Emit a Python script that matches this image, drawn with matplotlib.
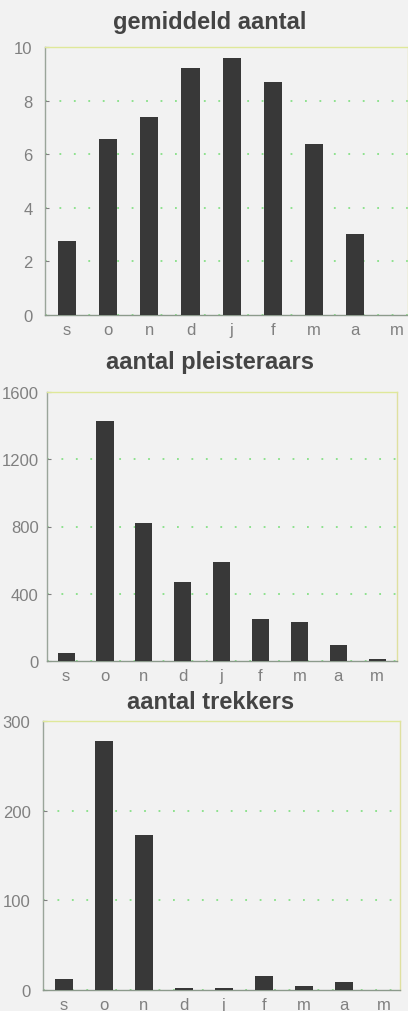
import matplotlib
matplotlib.use("Agg")
import matplotlib.pyplot as plt
import numpy as np

plt.rcParams['font.family'] = ['Liberation Sans', 'DejaVu Sans']

maanden = ['s', 'o', 'n', 'd', 'j', 'f', 'm', 'a', 'm']

gemiddeld = [2.77, 6.57, 7.37, 9.21, 9.6, 8.7, 6.38, 3.01, 0.0]
pleisteraars = [50, 1425, 821, 467, 586, 248, 233, 95, 14]
trekkers = [12.7, 278, 173, 2, 2.5, 15.6, 5, 9, 0]

titels = ['gemiddeld aantal', 'aantal pleisteraars', 'aantal trekkers']
yticks = [[0, 2, 4, 6, 8, 10], [0, 400, 800, 1200, 1600], [0, 100, 200, 300]]

bg = '#f2f2f2'
balk = '#383838'
grijs = '#808080'

fig = plt.figure(figsize=(4.08, 10.12), dpi=100, facecolor=bg)

W, H = 408.0, 1012.0
# assen in pixels: links, boven, rechts, onder
boxes = [(45, 48, 408, 316), (47, 393, 397, 662), (43, 722, 400, 991)]
xlims = [(-0.53, 8.28), (-0.49, 8.51), (-0.52, 8.41)]
titel_y = [22, 363, 703]
breedtes = [0.44, 0.44, 0.45]
ypads = [9, 6, 9]

data = [gemiddeld, pleisteraars, trekkers]
x = np.arange(len(maanden))

for i in range(3):
    l, t, r, b = boxes[i]
    ax = fig.add_axes([l / W, (H - b) / H, (r - l) / W, (b - t) / H])
    ax.set_facecolor(bg)
    ax.bar(x, data[i], width=breedtes[i], color=balk, zorder=3)
    ax.set_xlim(*xlims[i])
    ax.set_ylim(yticks[i][0], yticks[i][-1])
    ax.set_yticks(yticks[i])
    ax.set_xticks(x)
    ax.set_xticklabels(maanden)
    ax.tick_params(axis='both', colors=grijs, labelsize=12, direction='in', length=3)
    ax.tick_params(axis='y', pad=ypads[i])
    ax.tick_params(axis='x', length=0, pad=5)
    ax.grid(axis='y', color='#86e086', linestyle=(0, (1, 7)), linewidth=1.3, zorder=1)
    ax.spines['left'].set_color('#9aa59a')
    ax.spines['bottom'].set_color('#8c9a8c')
    ax.spines['top'].set_color('#dfe89a')
    ax.spines['right'].set_color('#dfe0a0')
    for s in ax.spines.values():
        s.set_linewidth(1.0)
    fig.text(0.515, 1 - titel_y[i] / H, titels[i], ha='center', va='center',
             fontsize=17, fontweight='bold', color='#444444')

fig.savefig('out.png', dpi=100, facecolor=bg)
